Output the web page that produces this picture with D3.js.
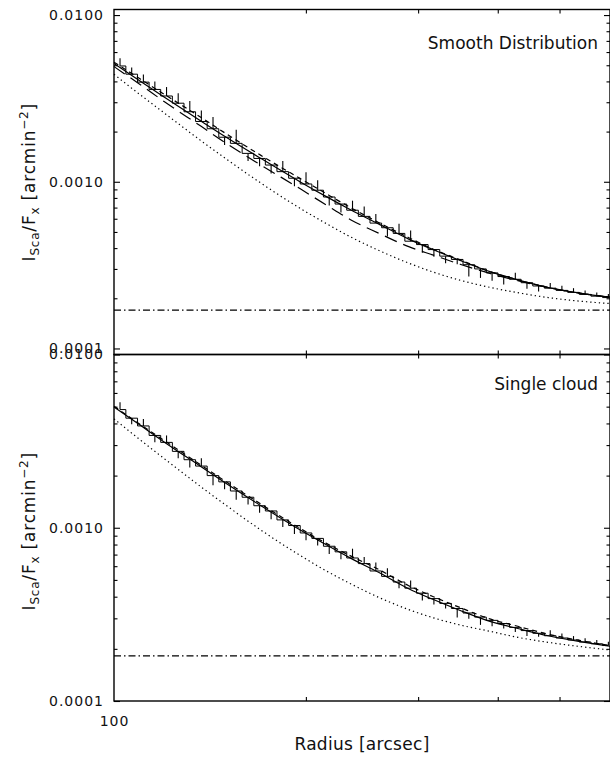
<!DOCTYPE html>
<meta charset="utf-8">
<style>
body { margin: 0; background: #fff; }
svg { display: block; }
text { font-family: "DejaVu Sans", sans-serif; fill: #111; }
.axis path.domain { display: none; }
.axis line { stroke: #000; stroke-width: 1.1; }
.axis .tick text { font-size: 14px; letter-spacing: 1px; fill: #111; font-family: "DejaVu Sans", sans-serif; }
.frame { fill: none; stroke: #000; stroke-width: 1.4; }
.curve { fill: none; stroke: #000; stroke-width: 1.2; }
.hist { fill: none; stroke: #000; stroke-width: 1; }
.errbar { stroke: #000; stroke-width: 1.1; }
text.note { font-size: 17px; text-anchor: end; }
text.xlabel { font-size: 17px; text-anchor: middle; letter-spacing: 0.3px; }
text.ylabel { font-size: 17px; letter-spacing: 0.8px; }
</style>
<script src="https://d3js.org/d3.v7.min.js"></script>
<div id="chart"></div>
<script>

// tick values and labels
var xTicks = [100];
var xTickLabels = ["100"];
var xMinor = [200, 300, 400, 500];
var yMajor = [0.0001, 0.001, 0.01];
var yTickLabels = ["0.0001", "0.0010", "0.0100"];
var yMinor = [2e-4, 3e-4, 4e-4, 5e-4, 6e-4, 7e-4, 8e-4, 9e-4,
              2e-3, 3e-3, 4e-3, 5e-3, 6e-3, 7e-3, 8e-3, 9e-3];

// radii where the model curves were read (arcsec)
var curveR = [100, 110, 120, 137, 150, 170, 196, 215, 235, 260, 290, 317, 350, 390, 430, 480, 540, 600];

// upper panel: smooth distribution models
var upperSolid     = [5.12e-3, 4.01e-3, 3.21e-3, 2.31e-3, 1.85e-3, 1.38e-3, 9.98e-4, 8.17e-4, 6.80e-4, 5.59e-4, 4.53e-4, 3.91e-4, 3.36e-4, 2.88e-4, 2.58e-4, 2.32e-4, 2.14e-4, 2.03e-4];
var upperShortDash = [5.22e-3, 4.13e-3, 3.34e-3, 2.43e-3, 1.94e-3, 1.44e-3, 1.045e-3, 8.50e-4, 7.00e-4, 5.70e-4, 4.62e-4, 3.94e-4, 3.39e-4, 2.88e-4, 2.58e-4, 2.32e-4, 2.14e-4, 2.03e-4];
var upperLongDash  = [4.91e-3, 3.82e-3, 3.02e-3, 2.15e-3, 1.70e-3, 1.26e-3, 9.07e-4, 7.28e-4, 5.92e-4, 4.92e-4, 4.08e-4, 3.63e-4, 3.19e-4, 2.81e-4, 2.55e-4, 2.32e-4, 2.14e-4, 2.03e-4];
var upperDotted    = [4.41e-3, 3.32e-3, 2.58e-3, 1.76e-3, 1.37e-3, 9.82e-4, 6.92e-4, 5.63e-4, 4.67e-4, 3.88e-4, 3.25e-4, 2.87e-4, 2.56e-4, 2.32e-4, 2.16e-4, 2.02e-4, 1.92e-4, 1.86e-4];
var upperBackground = 1.70e-4;

// lower panel: single cloud models
var lowerSolid     = [4.98e-3, 3.90e-3, 3.12e-3, 2.25e-3, 1.80e-3, 1.34e-3, 9.70e-4, 8.00e-4, 6.68e-4, 5.53e-4, 4.45e-4, 3.85e-4, 3.32e-4, 2.87e-4, 2.62e-4, 2.38e-4, 2.20e-4, 2.07e-4];
var lowerShortDash = [5.03e-3, 3.94e-3, 3.18e-3, 2.30e-3, 1.84e-3, 1.37e-3, 9.90e-4, 8.15e-4, 6.88e-4, 5.75e-4, 4.63e-4, 4.00e-4, 3.45e-4, 2.97e-4, 2.70e-4, 2.43e-4, 2.23e-4, 2.09e-4];
var lowerDotted    = [4.25e-3, 3.21e-3, 2.50e-3, 1.72e-3, 1.345e-3, 9.70e-4, 6.91e-4, 5.65e-4, 4.75e-4, 3.97e-4, 3.37e-4, 3.02e-4, 2.74e-4, 2.52e-4, 2.33e-4, 2.18e-4, 2.06e-4, 1.97e-4];
var lowerBackground = 1.82e-4;

// measured profile bins (arcsec)
var dataR = [102.2, 106.6, 111.2, 115.9, 120.9, 126.1, 131.5, 137.1, 143.0, 149.1,
             155.5, 162.3, 169.2, 176.4, 184.0, 191.9, 200.1, 208.7, 217.6, 227.0,
             236.7, 246.9, 257.5, 268.5, 280.0, 292.0, 304.6, 317.6, 331.3, 345.5,
             360.3, 375.8, 391.9, 408.7, 426.2, 444.5, 463.6, 483.5, 504.3, 525.9,
             548.4, 572.0, 596.5];

// upper panel data and the far end of each error bar
var upperData = [4.95e-3, 4.42e-3, 3.96e-3, 3.58e-3, 3.27e-3, 2.96e-3, 2.63e-3, 2.30e-3, 2.08e-3, 1.85e-3,
                 1.70e-3, 1.48e-3, 1.38e-3, 1.26e-3, 1.15e-3, 1.05e-3, 9.7e-4, 8.9e-4, 8.1e-4, 7.35e-4,
                 6.75e-4, 6.2e-4, 5.65e-4, 5.3e-4, 4.9e-4, 4.4e-4, 4.2e-4, 3.92e-4, 3.58e-4, 3.42e-4,
                 3.18e-4, 3.0e-4, 2.84e-4, 2.7e-4, 2.6e-4, 2.48e-4, 2.37e-4, 2.3e-4, 2.23e-4, 2.17e-4,
                 2.11e-4, 2.06e-4, 2.02e-4];
var upperErrEnd = [5.5e-3, 4.85e-3, 4.4e-3, 4.0e-3, 3.7e-3, 3.4e-3, 3.05e-3, 2.68e-3, 2.45e-3, 1.66e-3,
                   2.05e-3, 1.33e-3, 1.24e-3, 1.12e-3, 1.33e-3, 9.4e-4, 1.14e-3, 1.02e-3, 7.2e-4, 6.55e-4,
                   7.7e-4, 7.1e-4, 6.4e-4, 4.7e-4, 5.6e-4, 5.1e-4, 3.75e-4, 3.55e-4, 3.25e-4, 3.2e-4,
                   2.7e-4, 2.65e-4, 2.55e-4, 2.42e-4, 2.85e-4, 2.28e-4, 2.2e-4, 2.47e-4, 2.38e-4, 2.3e-4,
                   2.23e-4, 2.17e-4, 2.12e-4];

// lower panel data and error bar ends
var lowerData = [4.81e-3, 4.29e-3, 3.87e-3, 3.41e-3, 3.11e-3, 2.76e-3, 2.47e-3, 2.27e-3, 2.0e-3, 1.84e-3,
                 1.63e-3, 1.5e-3, 1.34e-3, 1.25e-3, 1.11e-3, 1.03e-3, 9.33e-4, 8.68e-4, 7.82e-4, 7.26e-4,
                 6.69e-4, 6.21e-4, 5.63e-4, 5.24e-4, 4.86e-4, 4.48e-4, 4.19e-4, 3.9e-4, 3.66e-4, 3.42e-4,
                 3.22e-4, 3.05e-4, 2.92e-4, 2.8e-4, 2.66e-4, 2.55e-4, 2.46e-4, 2.38e-4, 2.31e-4, 2.25e-4,
                 2.19e-4, 2.14e-4, 2.09e-4];
var lowerErrEnd = [5.31e-3, 3.96e-3, 4.25e-3, 3.12e-3, 3.41e-3, 2.52e-3, 2.23e-3, 2.52e-3, 1.76e-3, 1.67e-3,
                   1.45e-3, 1.36e-3, 1.22e-3, 1.12e-3, 1.01e-3, 9.2e-4, 8.47e-4, 7.9e-4, 7.05e-4, 6.58e-4,
                   7.57e-4, 6.79e-4, 6.3e-4, 5.83e-4, 4.47e-4, 4.96e-4, 3.8e-4, 3.61e-4, 3.42e-4, 3.03e-4,
                   2.98e-4, 2.75e-4, 2.7e-4, 2.62e-4, 2.5e-4, 2.37e-4, 2.35e-4, 2.56e-4, 2.45e-4, 2.37e-4,
                   2.3e-4, 2.25e-4, 2.2e-4];

var left = 114, right = 610;

var svg = d3.select("#chart")
  .append("svg")
    .attr("width", 610)
    .attr("height", 759);

svg.append("rect").attr("width", 610).attr("height", 759).attr("fill", "#fff");

var x = d3.scaleLog()
  .domain([100, 600])
  .range([left, right]);

var panels = [
  {top: 9.5, bottom: 354.5, yDomain: [9.2e-5, 0.0108],
   solid: upperSolid, shortDash: upperShortDash, longDash: upperLongDash, dotted: upperDotted,
   bg: upperBackground, val: upperData, end: upperErrEnd,
   note: "Smooth Distribution", noteY: 49, labelTop: 103, bottomLabels: false},
  {top: 354.5, bottom: 701, yDomain: [1e-4, 0.01],
   solid: lowerSolid, shortDash: lowerShortDash, longDash: null, dotted: lowerDotted,
   bg: lowerBackground, val: lowerData, end: lowerErrEnd,
   note: "Single cloud", noteY: 390, labelTop: 452, bottomLabels: true}
];

panels.forEach(function(p) {
  var y = d3.scaleLog().domain(p.yDomain).range([p.bottom, p.top]);
  var g = svg.append("g");

  var line = d3.line()
    .x(function(d) { return x(d.r); })
    .y(function(d) { return y(d.v); })
    .curve(d3.curveMonotoneX);

  function curve(vals, dash) {
    var pts = curveR.map(function(r, i) { return {r: r, v: vals[i]}; });
    g.append("path")
      .attr("class", "curve")
      .attr("d", line(pts))
      .attr("stroke-dasharray", dash);
  }

  curve(p.dotted, "1.3,3");
  if (p.longDash) curve(p.longDash, "13,7");
  curve(p.shortDash, "5,4");
  curve(p.solid, null);

  // background level
  g.append("line")
    .attr("class", "curve")
    .attr("x1", x(100)).attr("x2", x(600))
    .attr("y1", y(p.bg)).attr("y2", y(p.bg))
    .attr("stroke-dasharray", "7,3,1.5,3");

  // data as histogram steps with error bars
  var pts = dataR.map(function(r, i) { return {r: r, v: p.val[i], e: p.end[i]}; });
  g.append("path")
    .attr("class", "hist")
    .attr("d", d3.line()
      .x(function(d) { return x(d.r); })
      .y(function(d) { return y(d.v); })
      .curve(d3.curveStep)(pts));
  g.selectAll("line.errbar")
    .data(pts)
    .enter()
    .append("line")
      .attr("class", "errbar")
      .attr("x1", function(d) { return x(d.r); })
      .attr("x2", function(d) { return x(d.r); })
      .attr("y1", function(d) { return y(d.v); })
      .attr("y2", function(d) { return y(d.e); });

  // axes, ticks pointing inward
  g.append("g").attr("class", "axis")
    .attr("transform", "translate(" + left + ",0)")
    .call(d3.axisLeft(y).tickValues(yMajor).tickSize(-6).tickPadding(10)
      .tickFormat(function(d, i) { return yTickLabels[i]; }));
  g.append("g").attr("class", "axis")
    .attr("transform", "translate(" + left + ",0)")
    .call(d3.axisLeft(y).tickValues(yMinor).tickSize(-3.5).tickFormat(""));
  g.append("g").attr("class", "axis")
    .attr("transform", "translate(" + right + ",0)")
    .call(d3.axisRight(y).tickValues(yMajor).tickSize(-6).tickFormat(""));
  g.append("g").attr("class", "axis")
    .attr("transform", "translate(" + right + ",0)")
    .call(d3.axisRight(y).tickValues(yMinor).tickSize(-3.5).tickFormat(""));
  g.append("g").attr("class", "axis")
    .attr("transform", "translate(0," + p.top + ")")
    .call(d3.axisTop(x).tickValues(xMinor).tickSize(-4).tickFormat(""));
  g.append("g").attr("class", "axis")
    .attr("transform", "translate(0," + p.bottom + ")")
    .call(d3.axisBottom(x).tickValues(xMinor).tickSize(-4).tickFormat(""));
  if (p.bottomLabels) {
    g.append("g").attr("class", "axis")
      .attr("transform", "translate(0," + p.bottom + ")")
      .call(d3.axisBottom(x).tickValues(xTicks).tickSize(0).tickPadding(15)
        .tickFormat(function(d, i) { return xTickLabels[i]; }));
  }

  g.append("rect")
    .attr("class", "frame")
    .attr("x", left).attr("y", p.top)
    .attr("width", right - left).attr("height", p.bottom - p.top);

  g.append("text")
    .attr("class", "note")
    .attr("x", 598).attr("y", p.noteY)
    .text(p.note);

  // y title, read bottom to top
  var lab = g.append("text")
    .attr("class", "ylabel")
    .attr("text-anchor", "end")
    .attr("transform", "translate(35," + p.labelTop + ") rotate(-90)");
  lab.append("tspan").text("I");
  lab.append("tspan").attr("dy", 4).attr("font-size", 12).text("Sca");
  lab.append("tspan").attr("dy", -4).text("/F");
  lab.append("tspan").attr("dy", 4).attr("font-size", 12).text("x");
  lab.append("tspan").attr("dy", -4).text(" [arcmin");
  lab.append("tspan").attr("dy", -7).attr("font-size", 12).text("\u22122");
  lab.append("tspan").attr("dy", 7).text("]");
});

svg.append("text")
  .attr("class", "xlabel")
  .attr("x", (left + right) / 2)
  .attr("y", 750)
  .text("Radius [arcsec]");

</script>
